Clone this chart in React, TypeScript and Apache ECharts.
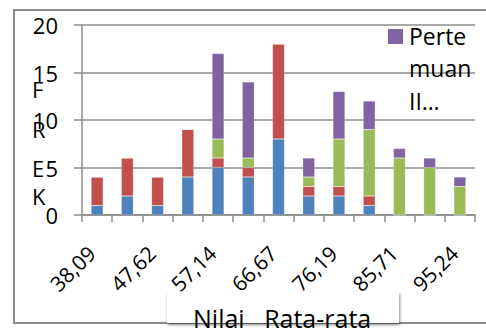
import React, { useEffect, useRef } from "react";
import * as echarts from "echarts";

const categories = ["38,09", "42,86", "47,62", "52,38", "57,14", "61,90", "66,67", "71,43", "76,19", "80,95", "85,71", "90,48", "95,24"];
const seriesNames = ["Pertemuan I", "Pertemuan II", "Pertemuan III", "Pertemuan IV"];
const blueValues = [1, 2, 1, 4, 5, 4, 8, 2, 2, 1, 0, 0, 0];
const redValues = [3, 4, 3, 5, 1, 1, 10, 1, 1, 1, 0, 0, 0];
const greenValues = [0, 0, 0, 0, 2, 1, 0, 1, 5, 7, 6, 5, 3];
const purpleValues = [0, 0, 0, 0, 9, 8, 0, 2, 5, 3, 1, 1, 1];
const yTicks = { min: 0, max: 20, interval: 5 };
const yTitleLetters = ["F", "R", "E", "K"];
const xTitle = "Nilai   Rata-rata";
const legendLines = ["Perte", "muan", "II…"];

const colors = ["#4F81BD", "#C0504D", "#9BBB59", "#8064A2"];
const FONT = "'Open Sans', 'Noto Sans', sans-serif";

export default function App() {
  const ref = useRef<HTMLDivElement>(null);
  useEffect(() => {
    if (!ref.current) return;
    const chart = echarts.init(ref.current, null, { renderer: "svg" });
    const values = [blueValues, redValues, greenValues, purpleValues];
    const letterYs = [89, 129, 168, 196];
    const legendYs = [36, 68, 101];
    chart.setOption({
      animation: false,
      backgroundColor: "#ffffff",
      textStyle: { fontFamily: FONT },
      grid: { left: 82, right: 11, top: 25, bottom: 116 },
      xAxis: {
        type: "category",
        data: categories,
        boundaryGap: true,
        axisLine: { lineStyle: { color: "#8c8c8c", width: 1.5 } },
        axisTick: { show: true, interval: 0, length: 7, lineStyle: { color: "#8c8c8c", width: 1.5 } },
        axisLabel: { interval: 1, rotate: 45, fontSize: 21, color: "#000", margin: 29, padding: [0, 8, 0, 0], fontFamily: FONT },
      },
      yAxis: {
        type: "value",
        min: yTicks.min,
        max: yTicks.max,
        interval: yTicks.interval,
        axisLine: { show: true, lineStyle: { color: "#8c8c8c", width: 1.5 } },
        axisTick: { show: true, length: 8, lineStyle: { color: "#8c8c8c", width: 1.5 } },
        splitLine: { lineStyle: { color: "#8c8c8c", width: 1.5 } },
        axisLabel: { fontSize: 22, color: "#000", margin: 24, fontFamily: FONT },
      },
      series: seriesNames.map((name, i) => ({
        name,
        type: "bar",
        stack: "total",
        barWidth: 12,
        data: values[i],
        itemStyle: { color: colors[i], borderColor: "rgba(255,255,255,0.35)", borderWidth: 0.5 },
      })),
      graphic: [
        {
          type: "rect",
          shape: { x: 14, y: 10, width: 490, height: 313 },
          style: { fill: "none", stroke: "#8c8c8c", lineWidth: 2 },
          z: -1,
          silent: true,
        },
        ...yTitleLetters.map((ch, i) => ({
          type: "text",
          x: 32,
          y: letterYs[i],
          style: { text: ch, fontSize: 22, fill: "#000", fontFamily: FONT, verticalAlign: "middle", align: "left" },
          z: 10,
        })),
        {
          type: "rect",
          shape: { x: 388, y: 29, width: 15, height: 15 },
          style: { fill: colors[3] },
          z: 10,
        },
        ...legendLines.map((t, i) => ({
          type: "text",
          x: 409,
          y: legendYs[i],
          style: { text: t, fontSize: 23, fill: "#000", fontFamily: FONT, verticalAlign: "middle", align: "left" },
          z: 10,
        })),
        {
          type: "rect",
          shape: { x: 167, y: 292, width: 232, height: 31 },
          style: { fill: "#ffffff", shadowBlur: 3, shadowColor: "rgba(0,0,0,0.45)", shadowOffsetX: 1, shadowOffsetY: 2 },
          z: 20,
        },
        {
          type: "text",
          x: 193,
          y: 318,
          style: { text: xTitle, fontSize: 25, fill: "#000", fontFamily: FONT, verticalAlign: "middle", align: "left" },
          z: 21,
        },
      ],
    });
    return () => chart.dispose();
  }, []);
  return <div ref={ref} style={{ position: "fixed", left: 0, top: 0, width: 486, height: 331 }} />;
}
